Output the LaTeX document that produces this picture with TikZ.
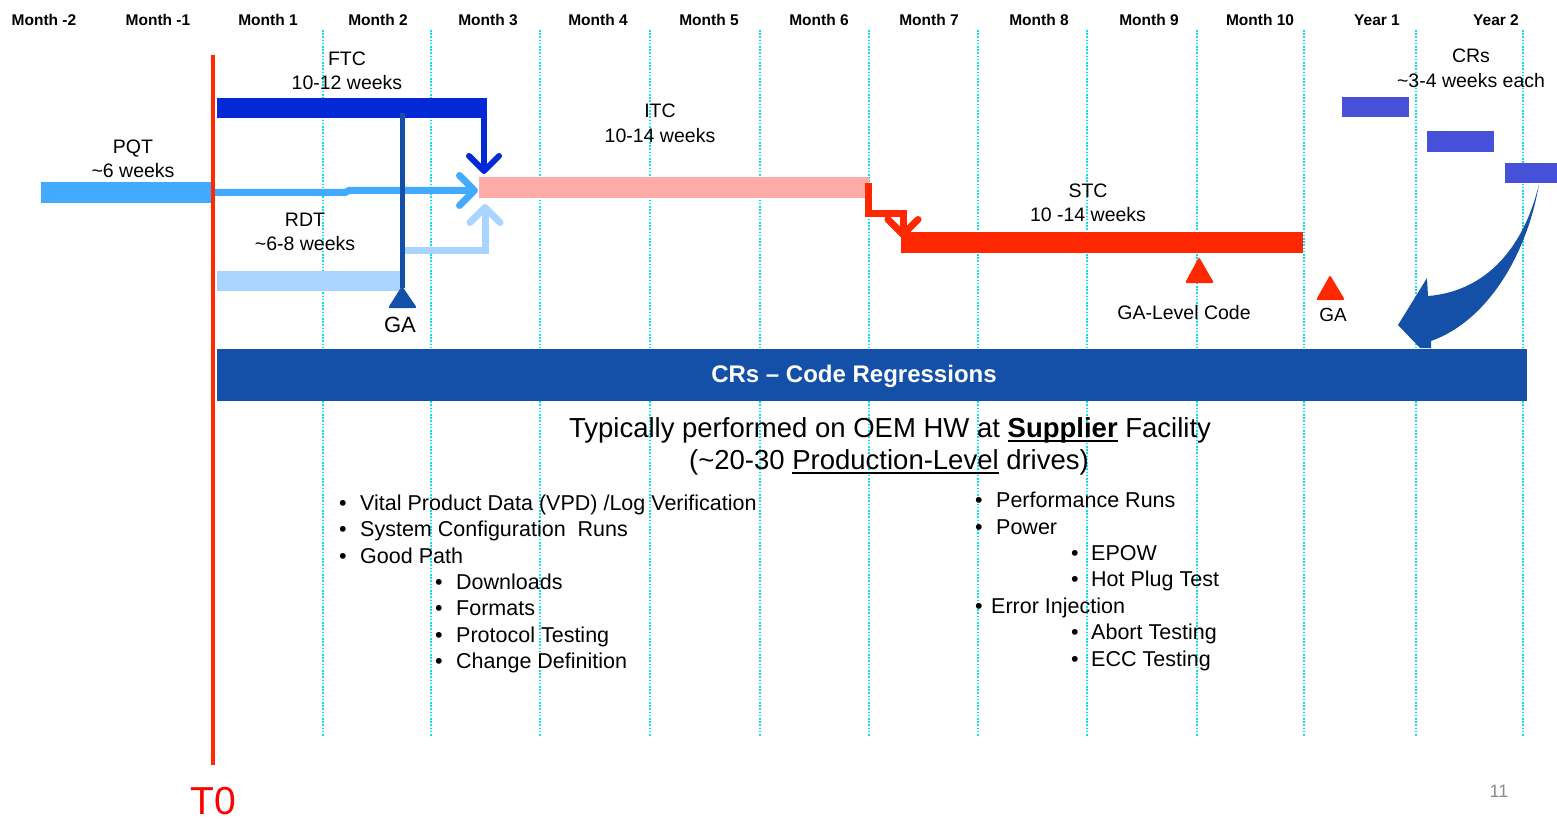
\documentclass[tikz,border=0pt]{standalone}
\usepackage{fontspec}
\setmainfont{Liberation Sans}
\usetikzlibrary{arrows.meta,calc}
\definecolor{ftcblue}{RGB}{3,40,214}
\definecolor{gablue}{RGB}{20,80,168}
\definecolor{pqtblue}{RGB}{66,170,255}
\definecolor{rdtblue}{RGB}{169,212,255}
\definecolor{itcpink}{RGB}{255,171,168}
\definecolor{stcred}{RGB}{255,40,0}
\definecolor{tzred}{RGB}{255,42,0}
\definecolor{crpurple}{RGB}{70,80,216}
\definecolor{gridcyan}{RGB}{0,228,240}
\definecolor{pagegrey}{RGB}{140,140,140}
\newcommand\fsz[2]{\fontsize{#1}{#2}\selectfont}
\newcommand\myul[1]{\leavevmode\setbox0=\hbox{#1}\rlap{\rule[-4.5pt]{\wd0}{1.8pt}}\box0\relax}
\begin{document}
\begin{tikzpicture}[x=1pt,y=-1pt,
  bar/.style={rectangle, inner sep=0pt, outer sep=0pt, draw=none, anchor=north west},
  lbl/.style={inner sep=0pt, align=center, font=\fsz{19.5}{24.5}},
  hdr/.style={inner sep=0pt, font=\fsz{15.5}{18}\bfseries},
  gridline/.style={gridcyan, line width=1.8pt, dash pattern=on 1.6pt off 1.6pt},
  item/.style={inner sep=0pt, anchor=base west, font=\fsz{21.5}{26}},
  chev/.style={-{Straight Barb[round,length=15pt,width=30pt]}},
  gatri/.style={rounded corners=2pt},
]
\useasboundingbox (0,0) rectangle (1557,821);
% grid
\foreach \gx in {323,431,540,650,760,869,978,1087,1197,1304,1416,1523}
  \draw[gridline] (\gx,30) -- (\gx,737);
% header
\foreach \hx/\htxt [count=\hi] in {44/Month -2,158/Month -1,268/Month 1,378/Month 2,488/Month 3,598/Month 4,709/Month 5,819/Month 6,929/Month 7,1039/Month 8,1149/Month 9,1260/Month 10,1377/Year 1,1496/Year 2}
  \node[hdr] (h\hi) at (\hx,20) {\htxt};
% bars
\node[bar, fill=ftcblue, minimum width=270pt, minimum height=20pt] (ftc) at (217,98) {};
\node[bar, fill=pqtblue, minimum width=172pt, minimum height=21pt] (pqt) at (41,182) {};
\node[bar, fill=rdtblue, minimum width=185pt, minimum height=20pt] (rdt) at (217,271) {};
\node[bar, fill=itcpink, minimum width=390pt, minimum height=21pt] (itc) at (479,177) {};
\node[bar, fill=stcred, minimum width=402pt, minimum height=21pt] (stc) at (901,232) {};
\node[bar, fill=crpurple, minimum width=67pt, minimum height=20pt] (cr1) at (1342,97) {};
\node[bar, fill=crpurple, minimum width=67pt, minimum height=21pt] (cr2) at (1427,131) {};
\node[bar, fill=crpurple, minimum width=52pt, minimum height=20pt] (cr3) at (1505,163) {};
\node[bar, fill=gablue, minimum width=1310pt, minimum height=52pt] (crbar) at (217,349) {};
\node[inner sep=0pt, text=white, font=\fsz{24}{28}\bfseries] (crtext) at (854,376) {CRs – Code Regressions};
% labels
\node[lbl] (ftcl) at (347,71) {FTC\\10-12 weeks};
\node[lbl] (pqtl) at (133,159) {PQT\\\textasciitilde6 weeks};
\node[lbl] (rdtl) at (305,232) {RDT\\\textasciitilde6-8 weeks};
\node[lbl] (itcl) at (660,123.5) {ITC\\10-14 weeks};
\node[lbl] (stcl) at (1088,203) {STC\\10 -14 weeks};
\node[lbl] (crl) at (1471,68.5) {CRs\\\textasciitilde3-4 weeks each};
% connectors into ITC
\draw[ftcblue, line width=6pt, chev] ($(ftc.north east)+(-3,0)$) -- ($(itc.north west)+(5,-3)$);
\draw[pqtblue, line width=7pt, chev] (pqt.east) -- ++(132,0) -- ++(4,-2) -- ($(itc.west)+(-1,3)$);
\draw[rdtblue, line width=7pt, chev] ($(rdt.north east)+(0,-21)$) -| ($(itc.south west)+(6,6)$);
% GA marker on early phase
\coordinate (gaapex) at (402,288);
\draw[gablue, line width=5pt] ($(ftc.south west)+(185,-5)$) -- (gaapex);
\fill[gablue, gatri] (402,286) -- (417,308) -- (388,308) -- cycle;
\node[inner sep=0pt, font=\fsz{22}{26}] (ga1) at (400,325) {GA};
% ITC -> STC
\draw[stcred, line width=7pt, chev] ($(itc.north east)+(-1,6)$) |- ($(stc.north west)+(2,-19)$) -- ($(stc.north west)+(2,6)$);
% red GA markers
\fill[stcred, gatri] (1199,257) -- (1214,283) -- (1185,283) -- cycle;
\node[inner sep=0pt, font=\fsz{19.5}{24}] (galc) at (1184,313) {GA-Level Code};
\fill[stcred, gatri] (1330,275) -- (1345,300) -- (1316,300) -- cycle;
\node[inner sep=0pt, font=\fsz{19}{24}] (ga2) at (1333,315) {GA};
% curved arrow from CRs to CR bar
\coordinate (cs) at ($(cr3.south west)+(34,1)$);
\fill[gablue] (cs) .. controls (1528,250) and (1490,320) .. (1431,341)
  -- (1431,348) -- (1420,348) -- (1398,325) -- (1427,278) -- (1428,296)
  .. controls (1480,292) and (1522,255) .. (cs) -- cycle;
% T0
\draw[tzred, line width=4.5pt] (213,55) -- (213,765);
\node[inner sep=0pt, text=red, font=\fsz{39}{42}] (t0) at (213,801) {T0};
% description
\node[inner sep=0pt, anchor=base, font=\fsz{27.5}{32}] (d1) at (890,437) {Typically performed on OEM HW at \textbf{\myul{Supplier}} Facility};
\node[inner sep=0pt, anchor=base, font=\fsz{27.5}{32}] (d2) at (889,469) {(\textasciitilde20-30 \myul{Production-Level} drives)};
% left list
\node[item] (l1) at (339,510) {\makebox[21pt][l]{•}Vital Product Data (VPD) /Log Verification};
\node[item] (l2) at (339,536) {\makebox[21pt][l]{•}System Configuration\ \ Runs};
\node[item] (l3) at (339,563) {\makebox[21pt][l]{•}Good Path};
\node[item] (l4) at (435,589) {\makebox[21pt][l]{•}Downloads};
\node[item] (l5) at (435,615) {\makebox[21pt][l]{•}Formats};
\node[item] (l6) at (435,642) {\makebox[21pt][l]{•}Protocol Testing};
\node[item] (l7) at (435,668) {\makebox[21pt][l]{•}Change Definition};
% right list
\node[item] (r1) at (975,507) {\makebox[21pt][l]{•}Performance Runs};
\node[item] (r2) at (975,534) {\makebox[21pt][l]{•}Power};
\node[item] (r3) at (1071,560) {\makebox[20pt][l]{•}EPOW};
\node[item] (r4) at (1071,586) {\makebox[20pt][l]{•}Hot Plug Test};
\node[item] (r5) at (975,613) {\makebox[16pt][l]{•}Error Injection};
\node[item] (r6) at (1071,639) {\makebox[20pt][l]{•}Abort Testing};
\node[item] (r7) at (1071,666) {\makebox[20pt][l]{•}ECC Testing};
% page number
\node[inner sep=0pt, text=pagegrey, font=\fsz{18}{20}] (pg) at (1499,791) {11};
\end{tikzpicture}
\end{document}
